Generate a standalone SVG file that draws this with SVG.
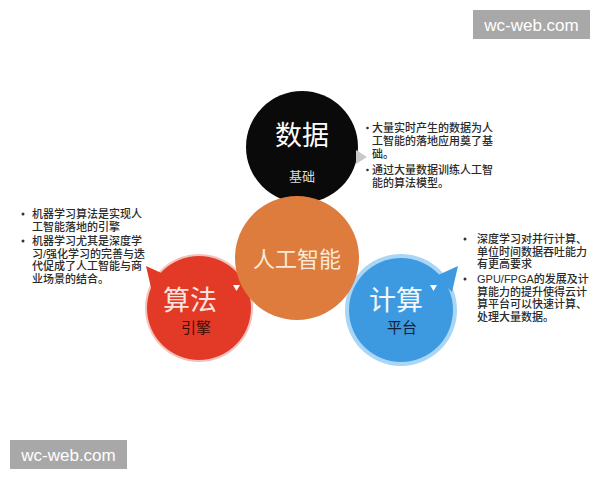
<svg xmlns="http://www.w3.org/2000/svg" width="600" height="480" viewBox="0 0 600 480">
<defs>
<style>
.t{font-family:"Liberation Sans","Noto Sans CJK SC",sans-serif;font-size:11px;fill:#2a2a2a;font-weight:500}
.b{fill:#333}
.big{font-family:"Noto Sans CJK SC",sans-serif;font-size:27px;text-anchor:middle}
.sub{font-family:"Noto Sans CJK SC",sans-serif;font-size:15px;text-anchor:middle}
.wm{font-family:"Liberation Sans",Arial,sans-serif;font-size:17px;fill:#fff;text-anchor:middle}
</style>
</defs>
<rect width="600" height="480" fill="#fff"/>
<g id="watermark-top"><rect x="473" y="10" width="117" height="29" fill="#a8a8a8"/><text class="wm" x="531.5" y="30.5">wc-web.com</text></g>
<g id="watermark-bottom"><rect x="10" y="440" width="117" height="29" fill="#a8a8a8"/><text class="wm" x="68.5" y="460.5">wc-web.com</text></g>
<g id="connectors"></g>
<g id="node-data">
<circle cx="302" cy="147" r="56" fill="#0a0a0a"/>
<polygon points="356,150 367,157 356,164" fill="#c8c8c8"/>
<text class="big" x="302" y="145" fill="#fff">数据</text>
<text class="sub" x="302" y="181" fill="#ddd" style="font-size:13px">基础</text>
</g>
<g id="node-algo">
<circle cx="199" cy="308" r="54" fill="#f4c2bc"/>
<path d="M152,292 L146,266 L168,276 Z" fill="#e23a26"/>
<circle cx="199" cy="308" r="52" fill="#e23a26"/>
<text class="big" x="190" y="310" fill="#fbe3df">算法</text>
<polygon points="233,285 240,285 236.5,291" fill="#fff"/>
<text class="sub" x="196" y="333" fill="#3e0c06">引擎</text>
</g>
<g id="node-compute">
<circle cx="401" cy="310" r="56" fill="#a9d6f5"/>
<path d="M436,276 L458,266 L452,292 Z" fill="#3d9ae0"/>
<circle cx="401" cy="310" r="52" fill="#3d9ae0"/>
<text class="big" x="396" y="310" fill="#f2f8fd">计算</text>
<polygon points="430,285 437,285 433.5,291" fill="#fff"/>
<text class="sub" x="402" y="333" fill="#13203a">平台</text>
</g>
<g id="node-ai">
<circle cx="297" cy="258" r="62" fill="#de7c3d"/>
<text x="297" y="267" fill="#f8ead8" style="font-family:'Noto Sans CJK SC',sans-serif;font-size:22px;text-anchor:middle">人工智能</text>
</g>
<g id="text-data">
<circle class="b" cx="367.5" cy="128" r="1.3"/>
<text class="t" x="372" y="132">大量实时产生的数据为人</text>
<text class="t" x="372" y="145">工智能的落地应用奠了基</text>
<text class="t" x="372" y="158">础。</text>
<circle class="b" cx="367.5" cy="170" r="1.3"/>
<text class="t" x="372" y="174">通过大量数据训练人工智</text>
<text class="t" x="372" y="187">能的算法模型。</text>
</g>
<g id="text-algo">
<circle class="b" cx="23" cy="214" r="1.5"/>
<text class="t" x="32" y="218">机器学习算法是实现人</text>
<text class="t" x="32" y="230.5">工智能落地的引擎</text>
<circle class="b" cx="23" cy="241" r="1.5"/>
<text class="t" x="32" y="245">机器学习尤其是深度学</text>
<text class="t" x="32" y="257.5">习/强化学习的完善与迭</text>
<text class="t" x="32" y="270">代促成了人工智能与商</text>
<text class="t" x="32" y="282.5">业场景的结合。</text>
</g>
<g id="text-compute">
<circle class="b" cx="465" cy="239" r="1.5"/>
<text class="t" x="477" y="243">深度学习对并行计算、</text>
<text class="t" x="477" y="255.5">单位时间数据吞吐能力</text>
<text class="t" x="477" y="268">有更高要求</text>
<circle class="b" cx="465" cy="279" r="1.5"/>
<text class="t" x="477" y="283">GPU/FPGA的发展及计</text>
<text class="t" x="477" y="295.5">算能力的提升使得云计</text>
<text class="t" x="477" y="308">算平台可以快速计算、</text>
<text class="t" x="477" y="320.5">处理大量数据。</text>
</g>
</svg>
